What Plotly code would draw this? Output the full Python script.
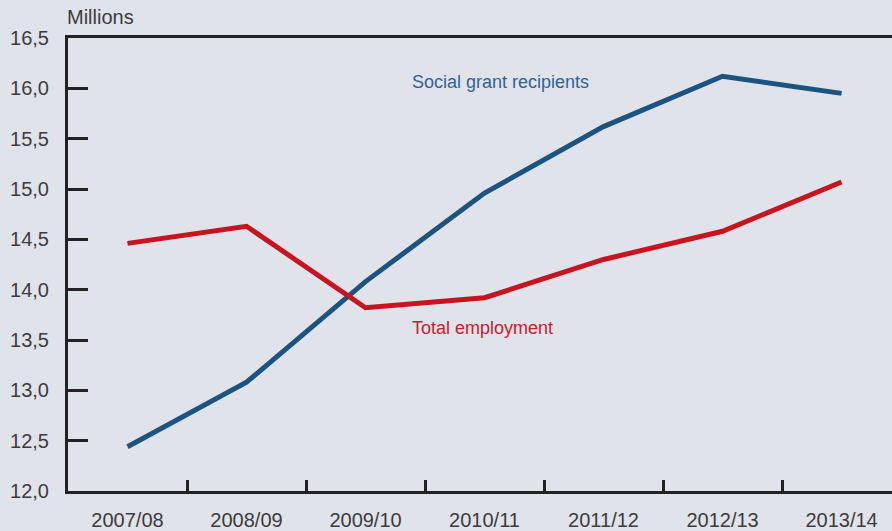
import plotly.graph_objects as go

years = ["2007/08", "2008/09", "2009/10", "2010/11", "2011/12", "2012/13", "2013/14"]
social_grant = [12.44, 13.08, 14.08, 14.96, 15.62, 16.12, 15.95]
total_employment = [14.46, 14.63, 13.82, 13.92, 14.30, 14.58, 15.07]
y_ticks = [12.0, 12.5, 13.0, 13.5, 14.0, 14.5, 15.0, 15.5, 16.0, 16.5]
y_ticktext = [f"{v:.1f}".replace(".", ",") for v in y_ticks]

BG = "#e1e3ea"
BLUE = "#1b5480"
RED = "#c8141f"
TXT = "#3c3c3c"
FONT = "Liberation Sans"

fig = go.Figure()
fig.add_trace(go.Scatter(x=years, y=social_grant, mode="lines",
                         line=dict(color=BLUE, width=5), name="Social grant recipients"))
fig.add_trace(go.Scatter(x=years, y=total_employment, mode="lines",
                         line=dict(color=RED, width=5), name="Total employment"))

fig.update_layout(
    width=892, height=531,
    margin=dict(l=68, r=0, t=38, b=36),
    paper_bgcolor=BG, plot_bgcolor=BG,
    showlegend=False,
    font=dict(family=FONT, color=TXT, size=20),
    xaxis=dict(
        type="category", range=[-0.5, 6.424],
        tickson="boundaries", ticks="inside", ticklen=11, tickwidth=3, tickcolor="#222",
        showline=True, linecolor="#222", linewidth=3, mirror=True,
        showgrid=False, zeroline=False,
        tickfont=dict(size=20, color=TXT, family=FONT), ticklabelstandoff=9,
    ),
    yaxis=dict(
        range=[12, 16.5], tickvals=y_ticks, ticktext=y_ticktext,
        ticks="inside", ticklen=20, tickwidth=3, tickcolor="#222",
        showline=True, linecolor="#222", linewidth=3,
        showgrid=False, zeroline=False,
        tickfont=dict(size=20, color=TXT, family=FONT), ticklabelstandoff=12,
    ),
)

fig.add_annotation(text="Millions", xref="paper", yref="paper", x=-0.004, y=1.0,
                   xanchor="left", yanchor="bottom", yshift=8, showarrow=False,
                   font=dict(size=20, color=TXT, family=FONT))
fig.add_annotation(text="Social grant recipients", xref="x", yref="y", x=2.37, y=16.06,
                   xanchor="left", yanchor="middle", showarrow=False,
                   font=dict(size=18, color="#2d6394", family=FONT))
fig.add_annotation(text="Total employment", xref="x", yref="y", x=2.37, y=13.62,
                   xanchor="left", yanchor="middle", showarrow=False,
                   font=dict(size=18, color="#c8202d", family=FONT))

fig.write_html("out.html")
